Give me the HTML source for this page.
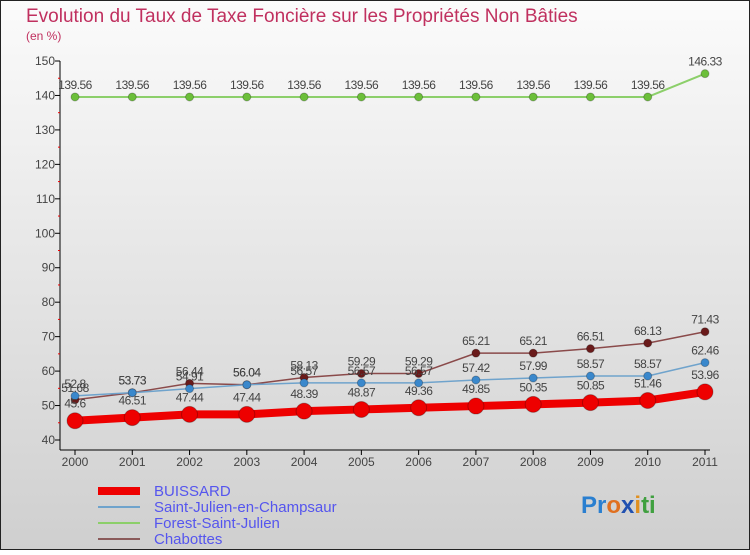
<!DOCTYPE html>
<html><head><meta charset="utf-8"><style>
body{margin:0}
svg text{font-family:"Liberation Sans",sans-serif}
</style></head><body>
<svg width="750" height="550" xmlns="http://www.w3.org/2000/svg">
<defs><linearGradient id="bg" x1="0" y1="0" x2="0" y2="1"><stop offset="0" stop-color="#fbfbfb"/><stop offset="1" stop-color="#cfcfcf"/></linearGradient></defs>
<rect x="0.5" y="0.5" width="749" height="549" fill="url(#bg)" stroke="#222"/>
<text x="26" y="22" font-size="19" fill="#c0305f">Evolution du Taux de Taxe Foncière sur les Propriétés Non Bâties</text>
<text x="26" y="40" font-size="12" fill="#c0305f">(en %)</text>
<g id="axes"></g>
<g id="series"></g>
<g font-size="15" fill="#5555ee">
<rect x="98" y="487" width="42" height="8" fill="#e00"/>
<text x="154" y="496">BUISSARD</text>
<rect x="98" y="506" width="42" height="2" fill="#6fa3cc"/>
<text x="154" y="512">Saint-Julien-en-Champsaur</text>
<rect x="98" y="522" width="42" height="2" fill="#8ccf6a"/>
<text x="154" y="528">Forest-Saint-Julien</text>
<rect x="98" y="538" width="42" height="2" fill="#8a5a5a"/>
<text x="154" y="544">Chabottes</text>
</g>
<text x="581" y="513" font-size="24" font-weight="bold"><tspan fill="#2a7fd0">Pr</tspan><tspan fill="#e07020">o</tspan><tspan fill="#2050b0">x</tspan><tspan fill="#e09020">i</tspan><tspan fill="#40a040">ti</tspan></text>
</svg>
<script>
const years=["2000","2001","2002","2003","2004","2005","2006","2007","2008","2009","2010","2011"];
const yTicks=[40,50,60,70,80,90,100,110,120,130,140,150];
const buissard=[45.6,46.51,47.44,47.44,48.39,48.87,49.36,49.85,50.35,50.85,51.46,53.96];
const saintJulien=[52.8,53.73,54.91,56.04,56.57,56.57,56.57,57.42,57.99,58.57,58.57,62.46];
const forest=[139.56,139.56,139.56,139.56,139.56,139.56,139.56,139.56,139.56,139.56,139.56,146.33];
const chabottes=[51.68,53.73,56.44,56.04,58.13,59.29,59.29,65.21,65.21,66.51,68.13,71.43];
const NS="http://www.w3.org/2000/svg";
const x=i=>75+i*(630/11);
const y=v=>440-(v-40)*(379/110);
function mk(t,a,p){const e=document.createElementNS(NS,t);for(const k in a)e.setAttribute(k,a[k]);p.appendChild(e);return e;}
const ax=document.getElementById('axes');
const yl=mk('line',{x1:60,y1:y(150),x2:60,y2:y(40)+10,stroke:'#000'},ax);


yTicks.forEach(v=>{
 mk('line',{x1:55,x2:60,y1:y(v),y2:y(v),stroke:'#000'},ax);
 if(v<150)mk('line',{x1:58,x2:60,y1:y(v+5),y2:y(v+5),stroke:'#e00'},ax);
 const t=mk('text',{x:55,y:y(v)+4,'font-size':12,fill:'#444','text-anchor':'end'},ax);
 t.textContent=v;
 
 
});
const xl=mk('line',{x1:60,y1:450,x2:710,y2:450,stroke:'#000'},ax);


years.forEach((yr,i)=>{
 mk('line',{x1:x(i),x2:x(i),y1:450,y2:455,stroke:'#000'},ax);
 const t=mk('text',{x:x(i),y:466,'font-size':12,fill:'#444','text-anchor':'middle'},ax);
 t.textContent=yr;
 
 
});
const sg=document.getElementById('series');
function series(data,name,color,dot,w,r,lblOff){
 const g=mk('g',{},sg);
 
 
 const pl=mk('polyline',{points:data.map((v,i)=>x(i)+','+y(v)).join(' '),fill:'none',stroke:color,'stroke-width':w,'stroke-linejoin':'round'},g);
 
 
 data.forEach((v,i)=>{
  const c=mk('circle',{cx:x(i),cy:y(v),r:r,fill:dot,stroke:'rgba(0,0,0,0.25)'},g);
  
  
  const t=mk('text',{x:x(i),y:y(v)+lblOff,'font-size':12,fill:'#444','text-anchor':'middle','letter-spacing':'-0.5'},g);
  t.textContent=String(v);
  
  
 });
}
series(forest,'forest','#8ccf6a','#6cbf3a',2,4,-8);
series(chabottes,'chabottes','#8a4a4a','#6a1a1a',1.5,4,-8);
series(saintJulien,'saint-julien','#6fa3cc','#3a88cc',1.5,4,-8);
series(buissard,'buissard','#e00','#e00',8,8,-13);
</script>
</body></html>
